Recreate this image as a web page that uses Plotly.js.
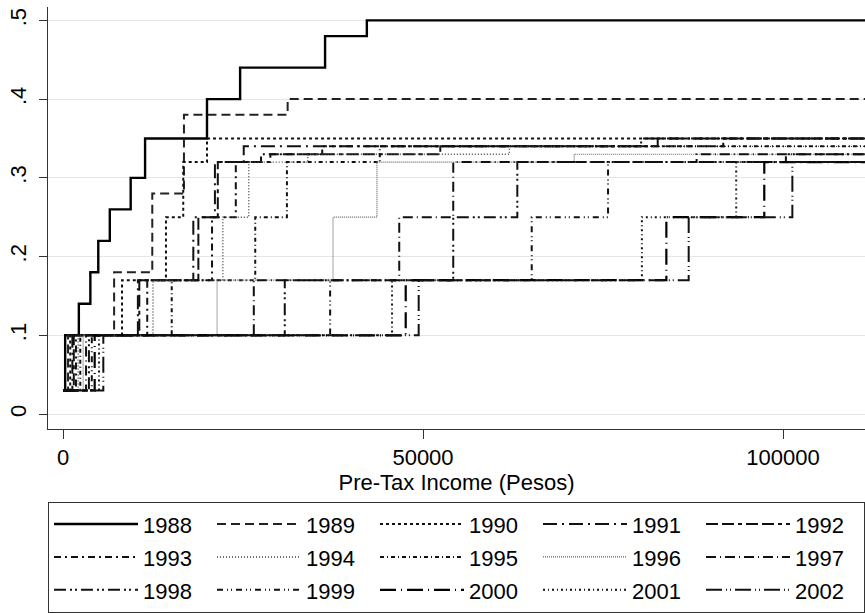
<!DOCTYPE html>
<html>
<head>
<meta charset="utf-8">
<script src="https://cdn.plot.ly/plotly-3.0.1.min.js"></script>
<style>html,body{margin:0;padding:0;background:#fff;}#chart{width:865px;height:613px;}</style>
</head>
<body>
<div id="chart"></div>
<script>
// ---- data: pre-tax income thresholds (pesos) and marginal rates ----
const years = ['1988','1989','1990','1991','1992','1993','1994','1995','1996','1997','1998','1999','2000','2001','2002'];

const income_1988 = [0, 300, 2200, 3800, 4900, 6500, 9400, 11400, 20000, 24600, 36400, 42200, 112000];
const rate_1988   = [.03, .10, .14, .18, .22, .26, .30, .35, .40, .44, .48, .50, .50];
const income_1989 = [0, 700, 7100, 12400, 16800, 31200, 112000];
const rate_1989   = [.03, .10, .18, .28, .38, .40, .40];
const income_1990 = [0, 1000, 8200, 14300, 16700, 20000, 112000];
const rate_1990   = [.03, .10, .17, .25, .32, .35, .35];
const income_1991 = [0, 1300, 10400, 18100, 21100, 25100, 80300, 112000];
const rate_1991   = [.03, .10, .17, .25, .32, .34, .35, .35];
const income_1992 = [0, 1500, 10600, 18800, 21500, 28800, 52400, 82600, 112000];
const rate_1992   = [.03, .10, .17, .25, .32, .33, .34, .35, .35];
const income_1993 = [0, 1800, 11700, 20700, 24000, 27500, 36000, 91700, 112000];
const rate_1993   = [.03, .10, .17, .25, .32, .33, .34, .35, .35];
const income_1994 = [0, 2100, 12500, 22200, 25800, 34000, 62000, 112000];
const rate_1994   = [.03, .10, .17, .25, .32, .33, .34, .34];
const income_1995 = [0, 2400, 15100, 26700, 31100, 44000, 112000];
const rate_1995   = [.03, .10, .17, .25, .32, .34, .34];
const income_1996 = [0, 2800, 21400, 37500, 43600, 71000, 112000];
const rate_1996   = [.03, .10, .17, .25, .32, .33, .33];
const income_1997 = [0, 3200, 26500, 46700, 54200, 88000, 112000];
const rate_1997   = [.03, .10, .17, .25, .32, .33, .33];
const income_1998 = [0, 3600, 30800, 54200, 63100, 100400, 112000];
const rate_1998   = [.03, .10, .17, .25, .32, .33, .33];
const income_1999 = [0, 4000, 37100, 65100, 75700, 112000];
const rate_1999   = [.03, .10, .17, .25, .32, .32];
const income_2000 = [0, 4400, 47600, 83800, 97400, 112000];
const rate_2000   = [.03, .10, .17, .25, .32, .32];
const income_2001 = [0, 5000, 45700, 80400, 93500, 112000];
const rate_2001   = [.03, .10, .17, .25, .32, .32];
const income_2002 = [0, 5600, 49400, 86900, 101300, 112000];
const rate_2002   = [.03, .10, .17, .25, .32, .32];

const xTickVals = [0, 50000, 100000];
const xTickText = ['0', '50000', '100000'];
const yTickVals = [0, .1, .2, .3, .4, .5];
const yTickText = ['0', '.1', '.2', '.3', '.4', '.5'];

const incomes = [income_1988, income_1989, income_1990, income_1991, income_1992, income_1993, income_1994,
  income_1995, income_1996, income_1997, income_1998, income_1999, income_2000, income_2001, income_2002];
const rates = [rate_1988, rate_1989, rate_1990, rate_1991, rate_1992, rate_1993, rate_1994,
  rate_1995, rate_1996, rate_1997, rate_1998, rate_1999, rate_2000, rate_2001, rate_2002];

// ---- styles ----
const dashes = ['solid', '9px,5px', '3px,3px', '14px,5px,2px,5px', '12px,4px,12px,4px,4px,4px',
  '7px,4px,2px,4px', '1px,2px', '4px,3px,1px,3px', '1px,1px', '10px,4px,1px,4px',
  '12px,4px,2px,3px,2px,4px', '6px,4px,1px,3px,1px,4px', '16px,5px,1px,5px', '2px,3px,1px,3px',
  '16px,4px,1px,3px,1px,4px'];
const widths = [2.4, 2, 2, 2, 2, 2, 1.4, 2, 1.2, 2, 2, 2, 2.2, 2, 2];
const colors = ['#000','#222','#111','#111','#111','#111','#444','#111','#666','#111','#111','#111','#000','#111','#111'];

const FONT = 'Liberation Sans, Arial, Helvetica, sans-serif';

const traces = years.map((yr, i) => ({
  type: 'scatter',
  mode: 'lines',
  name: '<span style="font-size:22px">' + yr + '</span>',
  x: incomes[i],
  y: rates[i],
  line: {shape: 'hv', color: colors[i], width: widths[i], dash: dashes[i]},
  hoverinfo: 'skip'
}));

const layout = {
  width: 865, height: 613,
  margin: {l: 48, r: 0, t: 7, b: 182, pad: 0},
  paper_bgcolor: '#fff', plot_bgcolor: '#fff',
  font: {family: FONT, size: 22, color: '#000'},
  showlegend: true,
  xaxis: {
    range: [-2083, 111389],
    tickmode: 'array', tickvals: xTickVals, ticktext: xTickText,
    ticks: 'outside', ticklen: 9, tickwidth: 1, tickcolor: '#333',
    showline: true, linecolor: '#333', linewidth: 1,
    showgrid: false, zeroline: false,
    tickfont: {size: 22, family: FONT},
    title: {text: 'Pre-Tax Income (Pesos)', font: {size: 22, family: FONT}, standoff: 4}
  },
  yaxis: {
    range: [-0.019, 0.517],
    tickmode: 'array', tickvals: yTickVals, ticktext: yTickText,
    tickangle: -90,
    ticks: 'outside', ticklen: 8, tickwidth: 1, tickcolor: '#333',
    showline: true, linecolor: '#333', linewidth: 1,
    showgrid: true, gridcolor: '#e6e6e6', gridwidth: 1,
    zeroline: false,
    tickfont: {size: 22, family: FONT},
    ticklabelstandoff: 4
  },
  legend: {
    orientation: 'h',
    x: 0.0184, xanchor: 'left',
    y: -0.172, yanchor: 'top',
    bordercolor: '#333', borderwidth: 1,
    bgcolor: '#fff',
    font: {size: 23, family: FONT, color: '#000'},
    itemwidth: 84,
    entrywidth: 64, entrywidthmode: 'pixels',
    itemclick: false, itemdoubleclick: false
  }
};

Plotly.newPlot('chart', traces, layout, {displayModeBar: false, staticPlot: true});
</script>
</body>
</html>
